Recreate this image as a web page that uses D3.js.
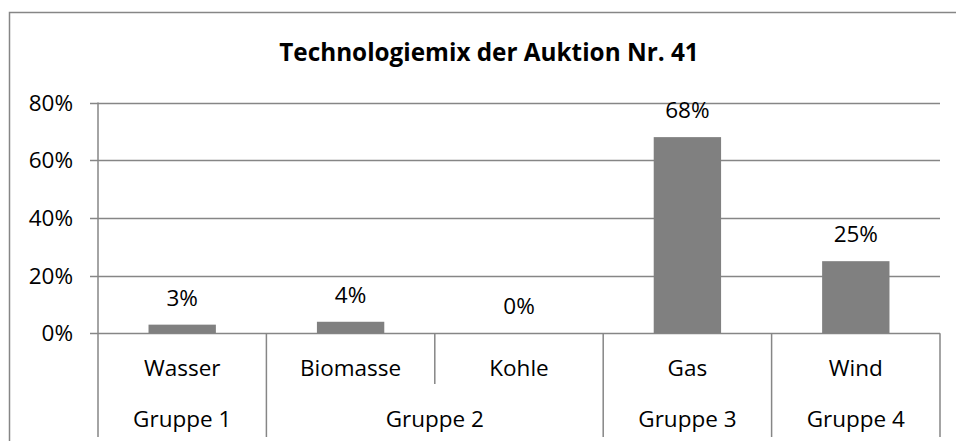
<!DOCTYPE html>
<html><head><meta charset="utf-8">
<script src="https://cdn.jsdelivr.net/npm/d3@7"></script>
<style>
  body { margin: 0; background: #fff; }
  text { font-family: 'Open Sans', sans-serif; fill: #000; }
</style>
</head><body>
<svg id="chart" width="956" height="441"></svg>
<script>
// data
const title = 'Technologiemix der Auktion Nr. 41';
const categories = ['Wasser', 'Biomasse', 'Kohle', 'Gas', 'Wind'];
const values = [0.03, 0.04, 0.00, 0.68, 0.25];
const valueLabels = ['3%', '4%', '0%', '68%', '25%'];
const groups = ['Gruppe 1', 'Gruppe 2', 'Gruppe 3', 'Gruppe 4'];
const categoryGroup = [0, 1, 1, 2, 3];
const yTicks = [0, 0.2, 0.4, 0.6, 0.8];

const lineColor = '#868686';
const barColor = '#808080';

const svg = d3.select('#chart');

// chart frame (runs off the right/bottom edge like the source picture)
svg.append('rect')
  .attr('x', 9.5).attr('y', 12.5)
  .attr('width', 960).attr('height', 500)
  .attr('fill', '#fff')
  .attr('stroke', lineColor)
  .attr('stroke-width', 1.5);

svg.append('text')
  .attr('x', 489).attr('y', 61)
  .attr('text-anchor', 'middle')
  .style('font-size', '24.3px')
  .style('font-weight', 'bold')
  .text(title);

const x = d3.scaleBand()
  .domain(categories)
  .range([98, 940])
  .paddingInner(0.6)
  .paddingOuter(0.3);

const y = d3.scaleLinear().domain([0, 0.8]).range([333.3, 102.5]);

const bottom = 437;
const half = (x.step() - x.bandwidth()) / 2;

// gridlines + tick marks
svg.append('g')
  .selectAll('line')
  .data(yTicks)
  .join('line')
  .attr('x1', 90).attr('x2', 940)
  .attr('y1', d => Math.round(y(d)) + 0.5)
  .attr('y2', d => Math.round(y(d)) + 0.5)
  .attr('stroke', lineColor)
  .attr('stroke-width', 1.5);

// y tick labels
svg.append('g')
  .selectAll('text')
  .data(yTicks)
  .join('text')
  .attr('x', 73)
  .attr('y', d => y(d) + 8)
  .attr('text-anchor', 'end')
  .style('font-size', '22.5px')
  .text(d => d3.format('.0%')(d));

// y axis line
svg.append('line')
  .attr('x1', 98).attr('x2', 98)
  .attr('y1', y(0.8)).attr('y2', bottom)
  .attr('stroke', lineColor)
  .attr('stroke-width', 1.5);

// bars
svg.append('g')
  .selectAll('rect')
  .data(categories)
  .join('rect')
  .attr('x', d => x(d))
  .attr('y', (d, i) => y(values[i]))
  .attr('width', x.bandwidth())
  .attr('height', (d, i) => y(0) - y(values[i]))
  .attr('fill', barColor);

// value labels
svg.append('g')
  .selectAll('text')
  .data(categories)
  .join('text')
  .attr('x', d => x(d) + x.bandwidth() / 2)
  .attr('y', (d, i) => y(values[i]) - 19)
  .attr('text-anchor', 'middle')
  .style('font-size', '22.5px')
  .text((d, i) => valueLabels[i]);

// category separators: full height between groups, short inside a group
const seps = categories.map((c, i) => ({
  xPos: x(c) + x.bandwidth() + half,
  full: i === categories.length - 1 || categoryGroup[i] !== categoryGroup[i + 1]
}));
svg.append('g')
  .selectAll('line')
  .data(seps)
  .join('line')
  .attr('x1', d => d.xPos).attr('x2', d => d.xPos)
  .attr('y1', y(0))
  .attr('y2', d => d.full ? bottom : 384)
  .attr('stroke', lineColor)
  .attr('stroke-width', 1.5);

// category labels
svg.append('g')
  .selectAll('text')
  .data(categories)
  .join('text')
  .attr('x', d => x(d) + x.bandwidth() / 2)
  .attr('y', 375.5)
  .attr('text-anchor', 'middle')
  .style('font-size', '22.5px')
  .text(d => d);

// group labels, centred under their categories
const groupSpans = groups.map((g, gi) => {
  const members = categories.filter((c, i) => categoryGroup[i] === gi);
  const left = x(members[0]) - half;
  const right = x(members[members.length - 1]) + x.bandwidth() + half;
  return { label: g, mid: (left + right) / 2 };
});
svg.append('g')
  .selectAll('text')
  .data(groupSpans)
  .join('text')
  .attr('x', d => d.mid)
  .attr('y', 426.5)
  .attr('text-anchor', 'middle')
  .style('font-size', '22.5px')
  .text(d => d.label);
</script>
</body></html>
